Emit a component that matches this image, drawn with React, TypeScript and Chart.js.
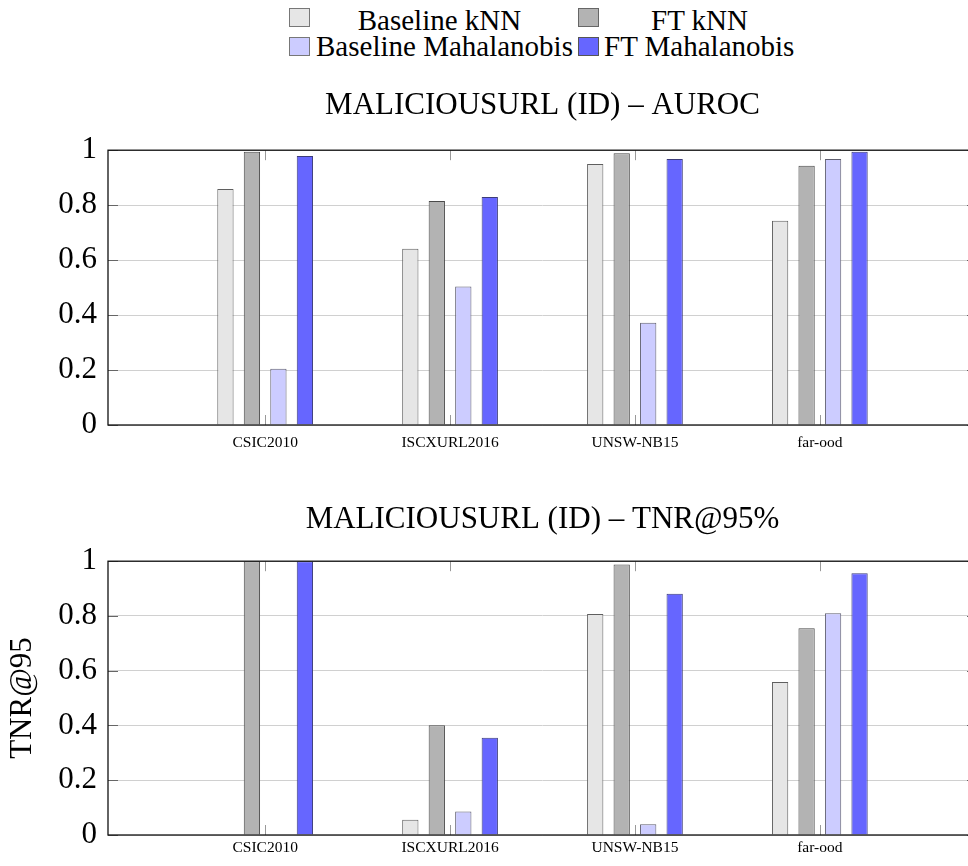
import React, { useEffect, useRef } from 'react';
import { Chart, registerables } from 'chart.js';

Chart.register(...registerables);

// ---------- data ----------
const categories = ['CSIC2010', 'ISCXURL2016', 'UNSW-NB15', 'far-ood'];
const seriesNames = ['Baseline kNN', 'FT kNN', 'Baseline Mahalanobis', 'FT Mahalanobis'];

const aurocBaselineKnn = [0.859, 0.641, 0.95, 0.743];
const aurocFtKnn = [0.994, 0.815, 0.989, 0.943];
const aurocBaselineMaha = [0.205, 0.504, 0.372, 0.968];
const aurocFtMaha = [0.979, 0.83, 0.968, 0.994];

const tnrBaselineKnn = [0, 0.056, 0.807, 0.559];
const tnrFtKnn = [1.0, 0.401, 0.988, 0.755];
const tnrBaselineMaha = [0, 0.086, 0.039, 0.81];
const tnrFtMaha = [1.0, 0.355, 0.881, 0.956];

const yTicks = [0, 0.2, 0.4, 0.6, 0.8, 1];

const topTitle = 'MALICIOUSURL (ID) – AUROC';
const bottomTitle = 'MALICIOUSURL (ID) – TNR@95%';
const bottomYTitle = 'TNR@95';

// ---------- styles ----------
const FONT = "'Liberation Serif', 'Times New Roman', serif";
const fills = ['#e6e6e6', '#b3b3b3', '#ccccff', '#6666ff'];
const edges = ['#5f5f5f', '#4a4a4a', '#5f5f6f', '#3c3c7a'];

const framePlugin = {
  id: 'pgfFrame',
  afterDatasetsDraw(chart: any) {
    const { ctx, chartArea: a, scales } = chart;
    const xs = scales.x;
    const ys = scales.y;
    ctx.save();
    ctx.lineWidth = 1;
    ctx.strokeStyle = '#999999';
    ctx.beginPath();
    categories.forEach((_, i) => {
      const px = Math.round(xs.getPixelForValue(i)) + 0.5;
      ctx.moveTo(px, a.top);
      ctx.lineTo(px, a.top + 10);
      ctx.moveTo(px, a.bottom);
      ctx.lineTo(px, a.bottom - 10);
    });
    ctx.stroke();
    ctx.strokeStyle = '#666666';
    ctx.beginPath();
    yTicks.forEach((v) => {
      const py = Math.round(ys.getPixelForValue(v)) + 0.5;
      ctx.moveTo(a.left, py);
      ctx.lineTo(a.left + 10, py);
      ctx.moveTo(a.right, py);
      ctx.lineTo(a.right - 10, py);
    });
    ctx.stroke();
    ctx.strokeStyle = '#111111';
    ctx.lineWidth = 1.3;
    ctx.strokeRect(a.left, a.top, a.right - a.left, a.bottom - a.top);
    ctx.restore();
  },
};

type PanelProps = {
  top: number;
  height: number;
  values: number[][];
  title: string;
  yTitle?: string;
  titlePadBottom: number;
  xAxisHeight: number;
  xLabelPad: number;
};

function BarPanel(props: PanelProps) {
  const ref = useRef<HTMLCanvasElement | null>(null);
  useEffect(() => {
    if (!ref.current) return;
    const chart = new Chart(ref.current, {
      type: 'bar',
      data: {
        datasets: seriesNames.map((name, s) => ({
          label: name,
          data: props.values[s].map((v, i) => ({ x: i, y: v })),
          backgroundColor: fills[s],
          borderColor: edges[s],
          borderWidth: 1,
          categoryPercentage: 0.573,
          barPercentage: 0.615,
        })),
      },
      options: {
        animation: false,
        responsive: false,
        layout: { padding: { left: 0, right: 13, top: 0, bottom: 0 } },
        plugins: {
          legend: { display: false },
          tooltip: { enabled: false },
          title: {
            display: true,
            text: props.title,
            fullSize: false,
            color: '#000',
            font: { family: FONT, size: 31, weight: 'normal' },
            padding: { top: 7, bottom: props.titlePadBottom },
          },
        },
        scales: {
          x: {
            type: 'linear',
            offset: false,
            min: -0.85,
            max: 3.85,
            afterBuildTicks: (s: any) => {
              s.ticks = categories.map((_, i) => ({ value: i }));
            },
            afterFit: (s: any) => {
              s.height = props.xAxisHeight;
            },
            ticks: {
              callback: (v: any) => categories[v as number] ?? '',
              color: '#000',
              font: { family: FONT, size: 15.5 },
              padding: props.xLabelPad,
              autoSkip: false,
              maxRotation: 0,
            },
            grid: { display: false, drawTicks: false, offset: false },
            border: { display: false },
          },
          y: {
            min: 0,
            max: 1,
            afterBuildTicks: (s: any) => {
              s.ticks = yTicks.map((v) => ({ value: v }));
            },
            afterFit: (s: any) => {
              s.width = 108;
            },
            ticks: {
              callback: (v: any) => String(v),
              color: '#000',
              font: { family: FONT, size: 31 },
              padding: 11,
            },
            grid: { color: '#d0d0d0', lineWidth: 1, drawTicks: false },
            border: { display: false },
            title: props.yTitle
              ? {
                  display: true,
                  text: props.yTitle,
                  color: '#000',
                  font: { family: FONT, size: 31, weight: 'normal' },
                  padding: { top: 4, bottom: 0 },
                }
              : { display: false },
          },
        },
      },
      plugins: [framePlugin],
    } as any);
    return () => chart.destroy();
  }, []);
  return (
    <canvas
      ref={ref}
      width={990}
      height={props.height}
      style={{ position: 'absolute', left: 0, top: props.top, display: 'block' }}
    />
  );
}

const legendBox = (left: number, top: number, color: string, edge: string) => (
  <div
    style={{
      position: 'absolute',
      left,
      top,
      width: 21,
      height: 19,
      background: color,
      border: `1px solid ${edge}`,
      boxSizing: 'border-box',
    }}
  />
);

const legendText = (left: number, top: number, width: number, text: string) => (
  <div
    style={{
      position: 'absolute',
      left,
      top,
      width,
      textAlign: 'center',
      fontFamily: FONT,
      fontSize: 29,
      lineHeight: '28px',
      color: '#000',
      whiteSpace: 'nowrap',
    }}
  >
    {text}
  </div>
);

export default function App() {
  return (
    <div
      style={{
        position: 'absolute',
        left: 0,
        top: 0,
        width: 968,
        height: 866,
        overflow: 'hidden',
        background: '#fff',
      }}
    >
      {legendBox(289, 8, fills[0], '#777')}
      {legendText(307, 6, 265, seriesNames[0])}
      {legendBox(578, 8, fills[1], '#666')}
      {legendText(608, 6, 183, seriesNames[1])}
      {legendBox(289, 37, fills[2], '#777')}
      {legendText(312, 32, 265, seriesNames[2])}
      {legendBox(578, 37, fills[3], '#555')}
      {legendText(604, 32, 183, seriesNames[3])}
      <BarPanel
        top={80}
        height={380}
        values={[aurocBaselineKnn, aurocFtKnn, aurocBaselineMaha, aurocFtMaha]}
        title={topTitle}
        titlePadBottom={26}
        xAxisHeight={35}
        xLabelPad={9}
      />
      <BarPanel
        top={494}
        height={372}
        values={[tnrBaselineKnn, tnrFtKnn, tnrBaselineMaha, tnrFtMaha]}
        title={bottomTitle}
        yTitle={bottomYTitle}
        titlePadBottom={23}
        xAxisHeight={31}
        xLabelPad={4}
      />
    </div>
  );
}
